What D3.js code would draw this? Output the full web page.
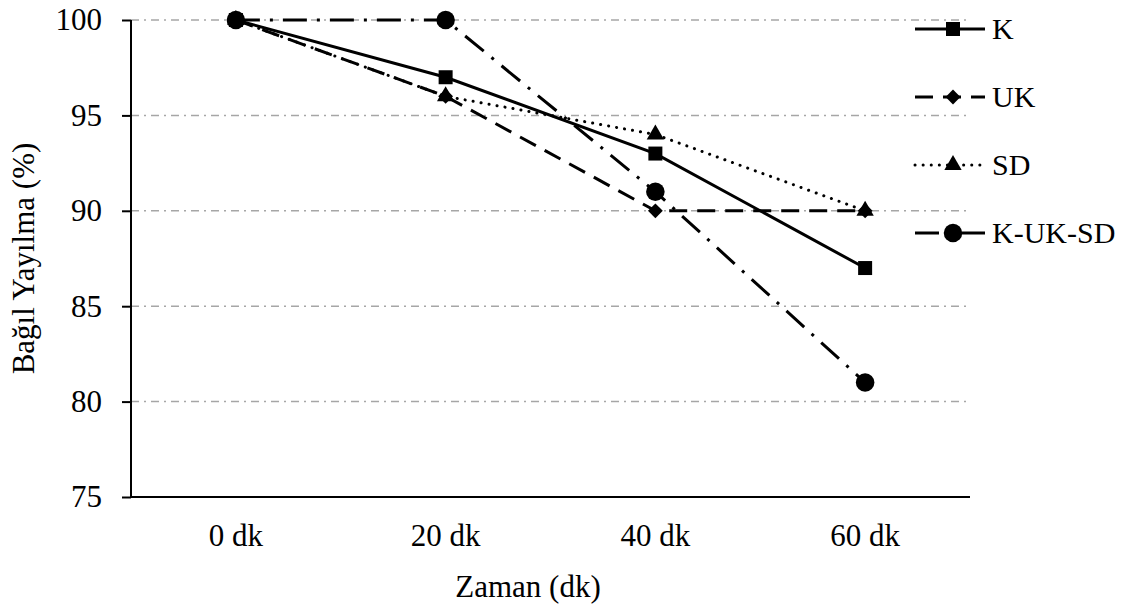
<!DOCTYPE html>
<html>
<head>
<meta charset="utf-8">
<script src="https://cdn.jsdelivr.net/npm/d3@7"></script>
<style>
body{margin:0;background:#fff;}
svg text{font-family:"Liberation Serif","Times New Roman","DejaVu Serif",serif;fill:#000;}
</style>
</head>
<body>
<svg id="chart"></svg>
<script>
var categories = ["0 dk","20 dk","40 dk","60 dk"];
var seriesNames = ["K","UK","SD","K-UK-SD"];
var valuesK = [100,97,93,87];
var valuesUK = [100,96,90,90];
var valuesSD = [100,96,94,90];
var valuesKUKSD = [100,100,91,81];
var yTicks = [75,80,85,90,95,100];

var screen = {width:1140,height:608}
var margins = {left:131,top:20,right:170,bottom:111}
var graph = {
    width:screen.width-margins.left-margins.right,
    height:screen.height-margins.top-margins.bottom
}

var svg = d3.select("#chart")
    .attr("width",screen.width)
    .attr("height",screen.height)

var xScale = d3.scaleBand()
    .domain(categories)
    .range([0,graph.width])

var yScale = d3.scaleLinear()
    .domain([75,100])
    .range([graph.height,0])

var target = svg.append("g")
    .attr("transform","translate("+margins.left+","+margins.top+")")

// gridlines
target.append("g").selectAll("line")
    .data(yTicks.filter(function(t){return t>75}))
    .enter().append("line")
    .attr("x1",0).attr("x2",graph.width)
    .attr("y1",function(d){return yScale(d)})
    .attr("y2",function(d){return yScale(d)})
    .attr("stroke","#a6a6a6")
    .attr("stroke-width",1.5)
    .attr("stroke-dasharray","8,5,2,5")

// axes
var yAxis = d3.axisLeft(yScale).tickValues(yTicks).tickSize(9).tickPadding(20)
var gy = target.append("g").call(yAxis).attr("font-family",null).attr("font-size",31)
gy.select(".domain").attr("stroke","#000").attr("stroke-width",2).attr("d","M0,0V"+graph.height)
gy.selectAll(".tick line").attr("stroke","#000").attr("stroke-width",2)

var xAxis = d3.axisBottom(xScale).tickSize(0).tickPadding(27)
var gx = target.append("g")
    .attr("transform","translate(0,"+graph.height+")")
    .call(xAxis)
    .attr("font-family",null).attr("font-size",31)
gx.select(".domain").attr("stroke","#000").attr("stroke-width",2).attr("d","M0,0H"+graph.width)

var diamond = {
    draw:function(ctx,size){
        var r = Math.sqrt(size/2)
        ctx.moveTo(0,-r);ctx.lineTo(r,0);ctx.lineTo(0,r);ctx.lineTo(-r,0);ctx.closePath()
    }
}

var series = [
    {name:"K",values:valuesK,dash:null,marker:"square",cap:"butt"},
    {name:"UK",values:valuesUK,dash:"18,10",marker:"diamond",cap:"butt"},
    {name:"SD",values:valuesSD,dash:"0.1,8",marker:"triangle",cap:"round"},
    {name:"K-UK-SD",values:valuesKUKSD,dash:"24,10,3,10",marker:"circle",cap:"butt"}
]

var symbolFor = function(m)
{
    if(m=="square") return d3.symbol().type(d3.symbolSquare).size(196)
    if(m=="diamond") return d3.symbol().type(diamond).size(110)
    if(m=="triangle") return d3.symbol().type(d3.symbolTriangle).size(130)
    return d3.symbol().type(d3.symbolCircle).size(270)
}

var line = d3.line()
    .x(function(d,i){return xScale(categories[i])+xScale.bandwidth()/2})
    .y(function(d){return yScale(d)})

series.forEach(function(s)
{
    target.append("path")
        .attr("d",line(s.values))
        .attr("fill","none")
        .attr("stroke","#000")
        .attr("stroke-width",3)
        .attr("stroke-linecap",s.cap)
        .attr("stroke-dasharray",s.dash)
    target.append("g").selectAll("path")
        .data(s.values)
        .enter().append("path")
        .attr("d",symbolFor(s.marker))
        .attr("transform",function(d,i){
            return "translate("+(xScale(categories[i])+xScale.bandwidth()/2)+","+yScale(d)+")"
        })
        .attr("fill","#000")
})

// legend
var legend = svg.append("g").attr("transform","translate(915,29)")
var entries = legend.selectAll("g")
    .data(series)
    .enter().append("g")
    .attr("transform",function(d,i){return "translate(0,"+i*68+")"})
entries.append("line")
    .attr("x1",0).attr("x2",70).attr("y1",0).attr("y2",0)
    .attr("stroke","#000").attr("stroke-width",3)
    .attr("stroke-linecap",function(d){return d.cap})
    .attr("stroke-dasharray",function(d){return d.dash})
entries.append("path")
    .attr("d",function(d){return symbolFor(d.marker)()})
    .attr("transform","translate(38,0)")
    .attr("fill","#000")
entries.append("text")
    .text(function(d){return d.name})
    .attr("x",77).attr("y",10)
    .attr("font-size",30)

// labels
svg.append("text")
    .text("Zaman (dk)")
    .attr("text-anchor","middle")
    .attr("x",528)
    .attr("y",597)
    .attr("font-size",31)

svg.append("text")
    .text("Bağıl Yayılma (%)")
    .attr("text-anchor","middle")
    .attr("transform","translate(34,"+(margins.top+graph.height/2)+") rotate(-90)")
    .attr("font-size",31)
</script>
</body>
</html>
